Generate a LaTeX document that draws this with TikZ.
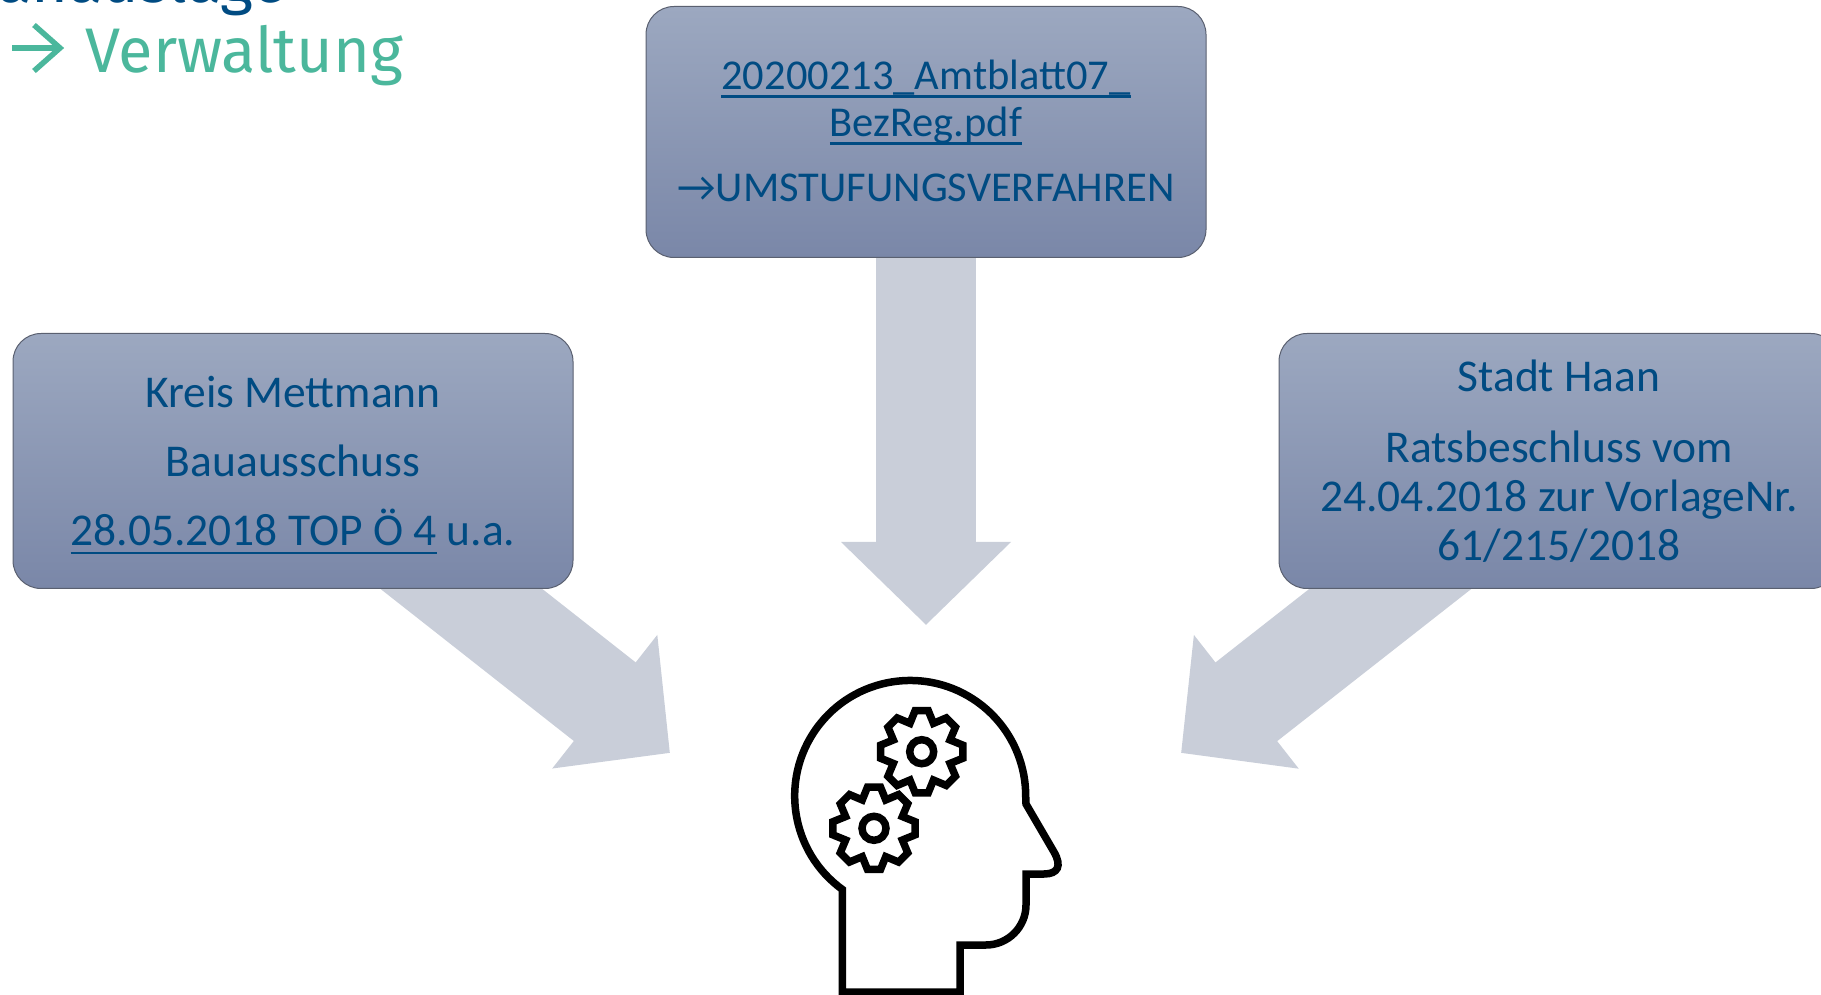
\documentclass[tikz,border=0pt]{standalone}
\usepackage{fontspec}
\setmainfont{Carlito}
\newfontfamily\titlefont{Fira Sans}
\usetikzlibrary{arrows.meta,backgrounds,calc}
\definecolor{boxtext}{HTML}{004B82}
\definecolor{boxtop}{HTML}{9CA8C0}
\definecolor{boxbottom}{HTML}{7A87A8}
\definecolor{boxline}{HTML}{5A6070}
\definecolor{flowgray}{HTML}{C9CED9}
\definecolor{titlegreen}{HTML}{4BB79C}
\tikzset{
    infobox/.style={draw=boxline, line width=1pt, rounded corners=28pt, top color=boxtop, bottom color=boxbottom, minimum width=560pt, text=boxtext, font=\fontsize{45.5}{49}\selectfont, align=center, inner sep=0pt},
    flowarrow/.style={draw=flowgray, line width=100pt, -{Triangle[width=165pt,length=83pt]}},
    iconline/.style={draw=black, line width=7.5pt, line join=miter}
}
\newsavebox{\linkbox}
\newcommand{\linktext}[1]{\sbox{\linkbox}{#1}\rlap{\rule[-8.4pt]{\wd\linkbox}{2.4pt}}\usebox{\linkbox}}
\newcommand{\gearicon}[2]{
    \draw[iconline] ($(#1,#2)+(-9:41.7)$)
        \foreach \a in {0,45,...,315} {
            -- ($(#1,#2)+(\a-9:41.7)$) -- ($(#1,#2)+(\a+9:41.7)$) -- ($(#1,#2)+(\a+22.5:30.7)$)
        } -- cycle;
    \draw[iconline] (#1,#2) circle (12);
}
\begin{document}
\begin{tikzpicture}[x=1pt,y=1pt]
    \useasboundingbox (0,0) rectangle (1821,994);
    \clip (0,0) rectangle (1821,994);
    % title
    \node[anchor=base east, text=boxtext, font=\titlefont\fontsize{63}{70}\selectfont, inner sep=0pt] (auslage) at (287,991) {Planauslage};
    \node[anchor=base west, text=titlegreen, font=\titlefont\fontsize{63}{70}\selectfont, inner sep=0pt] (verwaltung) at (85,921) {Verwaltung};
    \draw[titlegreen, line width=5.5pt] (12,946) -- (60,946);
    \draw[titlegreen, line width=5.5pt] (34,969) -- (60,946) -- (34,923);
    % boxes
    \node[infobox, minimum height=251pt, font=\fontsize{42.5}{47}\selectfont] (amtblatt) at (926,862) {\linktext{20200213\_Amtblatt07\_}\\\linktext{BezReg.pdf}\\[18pt]→UMSTUFUNGSVERFAHREN\rule[-3pt]{0pt}{3pt}};
    \node[infobox, minimum height=255pt] (kreis) at (293,533) {\rule{0pt}{40pt}Kreis Mettmann\\[20pt]Bauausschuss\\[20pt]\linktext{28.05.2018 TOP Ö 4} u.a.};
    \node[infobox, minimum height=255pt] (haan) at (1559,533) {Stadt Haan\\[22pt]Ratsbeschluss vom\\24.04.2018 zur VorlageNr.\\61/215/2018};
    % arrows
    \coordinate (amtblattend) at (926,369);
    \coordinate (kreisstart) at (361,484);
    \coordinate (kreisend) at (670,241);
    \coordinate (haanstart) at (1491,484);
    \coordinate (haanend) at (1181,241);
    \begin{scope}[on background layer]
        \draw[flowarrow] (amtblatt.center) -- (amtblattend);
        \draw[flowarrow] (kreisstart) -- (kreisend);
        \draw[flowarrow] (haanstart) -- (haanend);
    \end{scope}
    % head
    \draw[iconline] (842.3,-5) -- (842.3,104.6) arc[start angle=234, end angle=0, radius=115.5] -- (1026,190)
        -- (1054,142) .. controls (1062,128) and (1058,120) .. (1044,120) -- (1026,120) -- (1026,89)
        .. controls (1026,67) and (1008,49) .. (986,49) -- (960,49) -- (960,2) -- (842.3,2);
    \gearicon{921.7}{242.3}
    \gearicon{874}{165.7}
\end{tikzpicture}
\end{document}
